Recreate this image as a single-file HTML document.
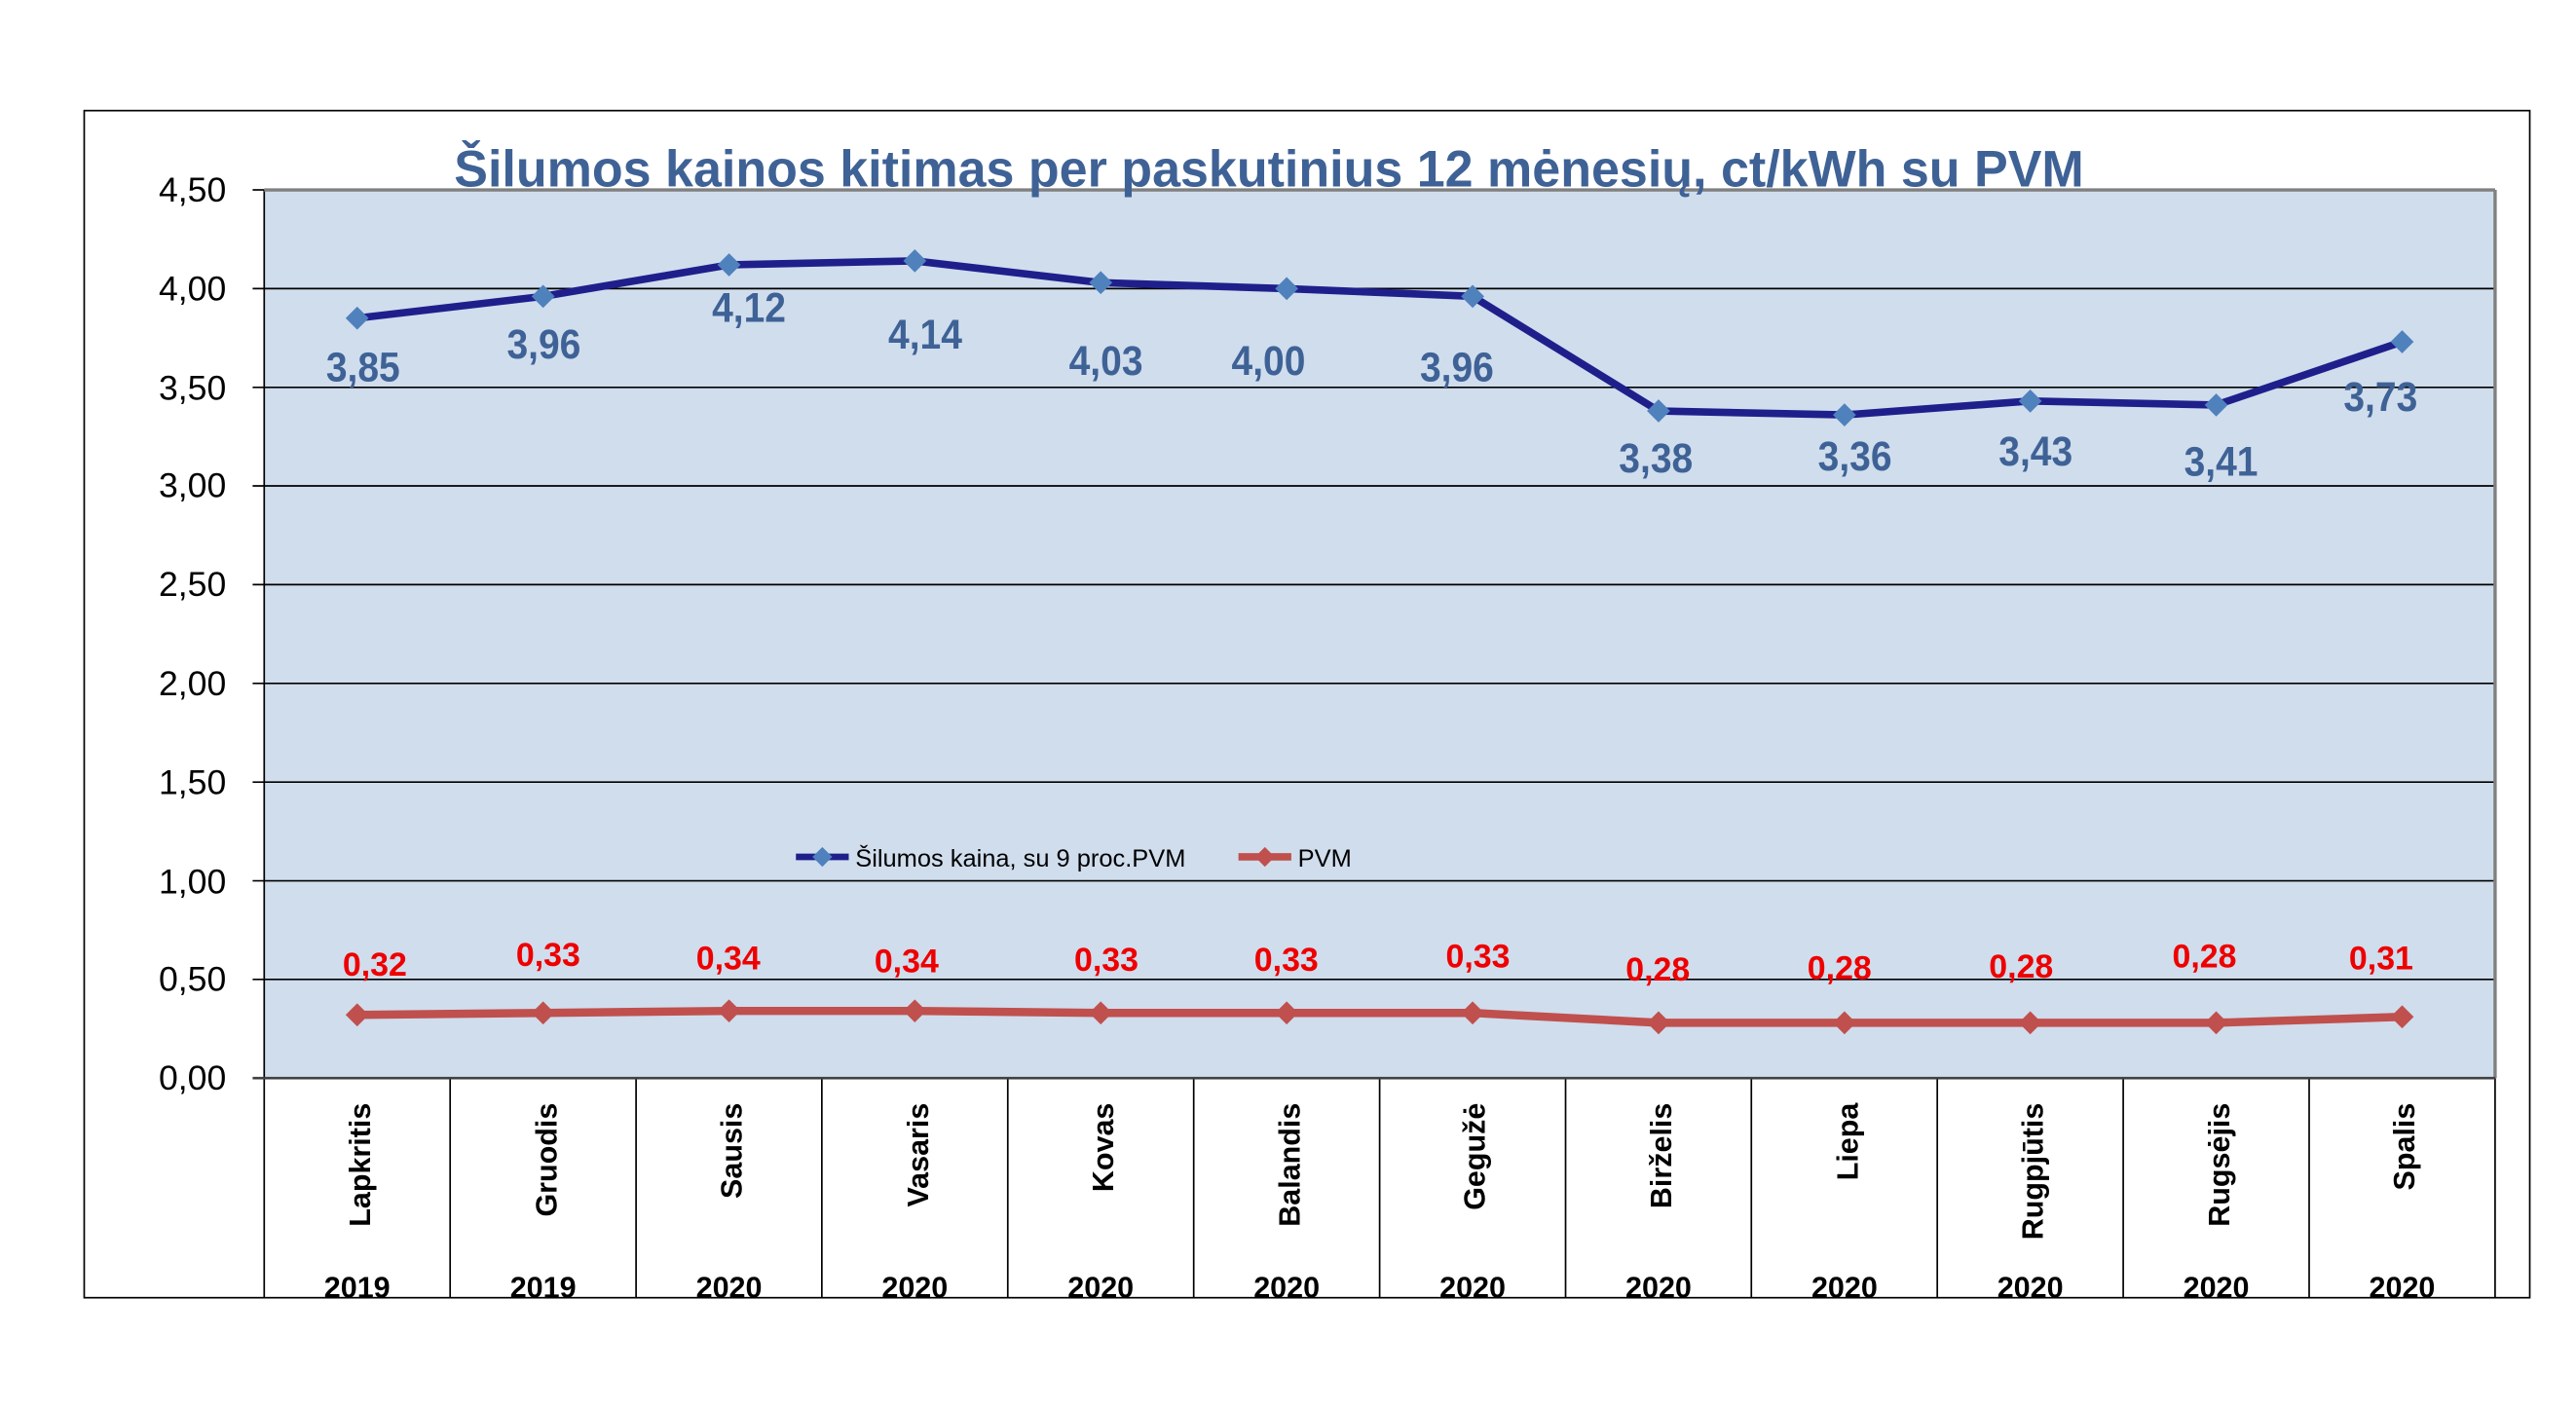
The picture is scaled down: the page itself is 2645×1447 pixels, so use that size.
<!DOCTYPE html>
<html><head><meta charset="utf-8"><style>html,body{margin:0;padding:0;background:#fff}svg{display:block}</style></head>
<body>
<svg width="2645" height="1447" viewBox="0 0 1560 853.4" xmlns="http://www.w3.org/2000/svg" font-family="Liberation Sans, Arial, sans-serif">
<rect x="0" y="0" width="1560" height="854" fill="#fff"/>
<rect x="51" y="67" width="1481" height="719" fill="#fff" stroke="#000" stroke-width="1"/>
<rect x="160" y="115" width="1351" height="538" fill="#d0dded"/>
<g stroke="#000" stroke-width="1">
<line x1="153" y1="174.8" x2="1511" y2="174.8"/>
<line x1="153" y1="234.6" x2="1511" y2="234.6"/>
<line x1="153" y1="294.3" x2="1511" y2="294.3"/>
<line x1="153" y1="354.1" x2="1511" y2="354.1"/>
<line x1="153" y1="413.9" x2="1511" y2="413.9"/>
<line x1="153" y1="473.7" x2="1511" y2="473.7"/>
<line x1="153" y1="533.5" x2="1511" y2="533.5"/>
<line x1="153" y1="593.2" x2="1511" y2="593.2"/>
<line x1="153" y1="115" x2="160" y2="115"/>
<line x1="160" y1="115" x2="160" y2="786"/>
<line x1="272.6" y1="653" x2="272.6" y2="786"/>
<line x1="385.2" y1="653" x2="385.2" y2="786"/>
<line x1="497.7" y1="653" x2="497.7" y2="786"/>
<line x1="610.3" y1="653" x2="610.3" y2="786"/>
<line x1="722.9" y1="653" x2="722.9" y2="786"/>
<line x1="835.5" y1="653" x2="835.5" y2="786"/>
<line x1="948.1" y1="653" x2="948.1" y2="786"/>
<line x1="1060.6" y1="653" x2="1060.6" y2="786"/>
<line x1="1173.2" y1="653" x2="1173.2" y2="786"/>
<line x1="1285.8" y1="653" x2="1285.8" y2="786"/>
<line x1="1398.4" y1="653" x2="1398.4" y2="786"/>
<line x1="1511" y1="653" x2="1511" y2="786"/>
</g>
<line x1="160" y1="115" x2="1511" y2="115" stroke="#808080" stroke-width="2"/>
<line x1="1511" y1="115" x2="1511" y2="653" stroke="#808080" stroke-width="2"/>
<line x1="153" y1="653" x2="1511" y2="653" stroke="#404040" stroke-width="1.5"/>
<g font-size="21" text-anchor="end" fill="#000">
<text x="137" y="122">4,50</text><text x="137" y="182">4,00</text><text x="137" y="242">3,50</text>
<text x="137" y="301">3,00</text><text x="137" y="361">2,50</text><text x="137" y="421">2,00</text>
<text x="137" y="481">1,50</text><text x="137" y="541">1,00</text><text x="137" y="600">0,50</text>
<text x="137" y="660">0,00</text>
</g>
<text x="275" y="113" font-size="31" font-weight="bold" fill="#3f6296" textLength="987" lengthAdjust="spacingAndGlyphs">Šilumos kainos kitimas per paskutinius 12 mėnesių, ct/kWh su PVM</text>
<polyline fill="none" stroke="#1f1f8c" stroke-width="4.5" stroke-linejoin="round" points="216.3,192.7 328.9,179.5 441.5,160.4 554.0,158.0 666.6,171.2 779.2,174.8 891.8,179.5 1004.4,248.9 1117.0,251.3 1229.5,242.9 1342.1,245.3 1454.7,207.0"/>
<g fill="#4f81bd">
<path d="M216.3,185.7l7,7l-7,7l-7,-7z"/><path d="M328.9,172.5l7,7l-7,7l-7,-7z"/><path d="M441.5,153.4l7,7l-7,7l-7,-7z"/><path d="M554,151l7,7l-7,7l-7,-7z"/><path d="M666.6,164.2l7,7l-7,7l-7,-7z"/><path d="M779.2,167.8l7,7l-7,7l-7,-7z"/><path d="M891.8,172.5l7,7l-7,7l-7,-7z"/><path d="M1004.4,241.9l7,7l-7,7l-7,-7z"/><path d="M1117,244.3l7,7l-7,7l-7,-7z"/><path d="M1229.5,235.9l7,7l-7,7l-7,-7z"/><path d="M1342.1,238.3l7,7l-7,7l-7,-7z"/><path d="M1454.7,200l7,7l-7,7l-7,-7z"/>
</g>
<polyline fill="none" stroke="#c0504d" stroke-width="5" stroke-linejoin="round" points="216.3,614.7 328.9,613.5 441.5,612.3 554.0,612.3 666.6,613.5 779.2,613.5 891.8,613.5 1004.4,619.5 1117.0,619.5 1229.5,619.5 1342.1,619.5 1454.7,615.9"/>
<g fill="#c0504d">
<path d="M216.3,607.7l7,7l-7,7l-7,-7z"/><path d="M328.9,606.5l7,7l-7,7l-7,-7z"/><path d="M441.5,605.3l7,7l-7,7l-7,-7z"/><path d="M554,605.3l7,7l-7,7l-7,-7z"/><path d="M666.6,606.5l7,7l-7,7l-7,-7z"/><path d="M779.2,606.5l7,7l-7,7l-7,-7z"/><path d="M891.8,606.5l7,7l-7,7l-7,-7z"/><path d="M1004.4,612.5l7,7l-7,7l-7,-7z"/><path d="M1117,612.5l7,7l-7,7l-7,-7z"/><path d="M1229.5,612.5l7,7l-7,7l-7,-7z"/><path d="M1342.1,612.5l7,7l-7,7l-7,-7z"/><path d="M1454.7,608.9l7,7l-7,7l-7,-7z"/>
</g>
<g font-size="25" font-weight="bold" fill="#3f6296" text-anchor="middle" transform="scale(0.92,1)">
<text x="239" y="231">3,85</text><text x="358" y="217">3,96</text><text x="493" y="195">4,12</text>
<text x="609" y="211">4,14</text><text x="728" y="227">4,03</text><text x="835" y="227">4,00</text>
<text x="959" y="231">3,96</text><text x="1090" y="286">3,38</text><text x="1221" y="285">3,36</text>
<text x="1340" y="282">3,43</text><text x="1462" y="288">3,41</text><text x="1567" y="249">3,73</text>
</g>
<g font-size="20" font-weight="bold" fill="#ee0000" text-anchor="middle">
<text x="227" y="591">0,32</text><text x="332" y="585">0,33</text><text x="441" y="587">0,34</text>
<text x="549" y="589">0,34</text><text x="670" y="588">0,33</text><text x="779" y="588">0,33</text>
<text x="895" y="586">0,33</text><text x="1004" y="594">0,28</text><text x="1114" y="593">0,28</text>
<text x="1224" y="592">0,28</text><text x="1335" y="586">0,28</text><text x="1442" y="587">0,31</text>
</g>
<line x1="482" y1="519" x2="514" y2="519" stroke="#1f1f8c" stroke-width="4"/>
<path d="M498,513l6,6l-6,6l-6,-6z" fill="#4f81bd"/>
<text x="518" y="525" font-size="15" fill="#000">Šilumos kaina, su 9 proc.PVM</text>
<line x1="750" y1="519" x2="782" y2="519" stroke="#c0504d" stroke-width="4.5"/>
<path d="M766,513l6,6l-6,6l-6,-6z" fill="#c0504d"/>
<text x="786" y="525" font-size="15" fill="#000">PVM</text>
<g font-size="18" font-weight="bold" fill="#000" text-anchor="end">
<text transform="translate(224,668) rotate(-90)">Lapkritis</text>
<text transform="translate(337,668) rotate(-90)">Gruodis</text>
<text transform="translate(449,668) rotate(-90)">Sausis</text>
<text transform="translate(562,668) rotate(-90)">Vasaris</text>
<text transform="translate(674,668) rotate(-90)">Kovas</text>
<text transform="translate(787,668) rotate(-90)">Balandis</text>
<text transform="translate(899,668) rotate(-90)">Gegužė</text>
<text transform="translate(1012,668) rotate(-90)">Birželis</text>
<text transform="translate(1125,668) rotate(-90)">Liepa</text>
<text transform="translate(1237,668) rotate(-90)">Rugpjūtis</text>
<text transform="translate(1350,668) rotate(-90)">Rugsėjis</text>
<text transform="translate(1462,668) rotate(-90)">Spalis</text>
</g>
<g font-size="18" font-weight="bold" fill="#000" text-anchor="middle">
<text x="216.3" y="786">2019</text><text x="328.9" y="786">2019</text><text x="441.5" y="786">2020</text>
<text x="554" y="786">2020</text><text x="666.6" y="786">2020</text><text x="779.2" y="786">2020</text>
<text x="891.8" y="786">2020</text><text x="1004.4" y="786">2020</text><text x="1117" y="786">2020</text>
<text x="1229.5" y="786">2020</text><text x="1342.1" y="786">2020</text><text x="1454.7" y="786">2020</text>
</g>
</svg>
</body></html>
